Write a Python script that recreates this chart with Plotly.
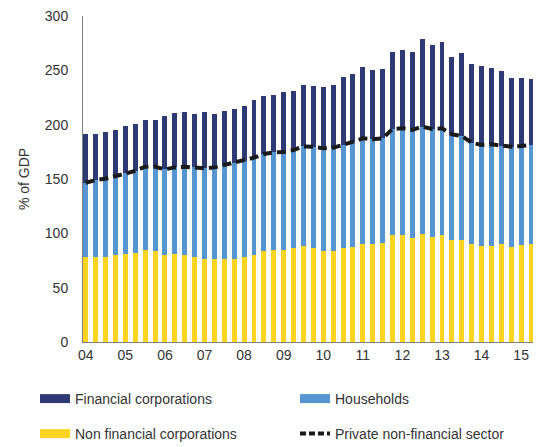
import plotly.graph_objects as go

year_labels = ["04", "05", "06", "07", "08", "09", "10", "11", "12", "13", "14", "15"]
quarters = [f"{2004 + i // 4}Q{i % 4 + 1}" for i in range(46)]

non_financial_corps = [77.9, 78.5, 78.5, 79.8, 80.7, 81.6, 84.7, 83.4, 80.1, 81.0, 79.8, 78.2,
                       76.1, 76.1, 76.7, 76.7, 77.9, 80.1, 83.4, 84.7, 84.7, 86.6, 88.0, 86.5,
                       84.0, 83.7, 86.5, 87.7, 90.5, 89.9, 90.8, 98.5, 98.5, 96.0, 99.4, 96.6,
                       98.5, 93.9, 94.2, 90.2, 88.6, 88.3, 89.9, 87.7, 89.0, 90.2]
households = [68.7, 70.6, 71.8, 73.0, 74.5, 75.8, 76.6, 77.9, 78.8, 79.7, 81.5, 82.5,
              83.7, 84.6, 86.2, 88.3, 88.7, 89.5, 89.6, 89.8, 90.1, 90.1, 92.0, 93.2,
              94.2, 95.1, 94.8, 96.6, 96.9, 96.6, 96.6, 97.5, 98.1, 99.1, 98.8, 99.4,
              98.1, 97.2, 95.4, 93.2, 92.7, 93.6, 90.5, 92.0, 91.4, 91.1]
financial_corps = [44.5, 42.6, 42.9, 42.6, 43.9, 43.5, 43.0, 43.0, 49.4, 50.0, 50.3, 49.1,
                   51.5, 49.1, 50.0, 49.7, 50.9, 53.1, 53.7, 52.8, 55.6, 54.3, 56.5, 55.9,
                   56.1, 57.7, 62.6, 62.0, 65.4, 63.8, 64.1, 70.6, 72.4, 72.1, 80.6, 77.3,
                   79.2, 70.9, 76.0, 72.4, 73.0, 70.6, 69.0, 62.9, 62.9, 60.4]
private_non_financial = [146.6, 149.1, 150.3, 152.8, 155.2, 157.4, 161.3, 161.3, 158.9, 160.7, 161.3, 160.7,
                         159.8, 160.7, 162.9, 165.0, 166.6, 169.6, 173.0, 174.5, 174.8, 176.7, 180.0, 179.7,
                         178.2, 178.8, 181.3, 184.3, 187.4, 186.5, 187.4, 196.0, 196.6, 195.1, 198.2, 196.0,
                         196.6, 191.1, 189.6, 183.4, 181.3, 181.9, 180.4, 179.7, 180.4, 181.3]

NAVY = "#2e3a74"
BLUE = "#5596d2"
YELLOW = "#fdd420"
FONT = "Liberation Sans, Arial, sans-serif"

x = list(range(len(quarters)))

fig = go.Figure()
fig.add_trace(go.Bar(x=x, y=non_financial_corps, marker_color=YELLOW, marker_line_width=0,
                     name="Non financial corporations", showlegend=False, hovertext=quarters))
fig.add_trace(go.Bar(x=x, y=households, marker_color=BLUE, marker_line_width=0,
                     name="Households", showlegend=False, hovertext=quarters))
fig.add_trace(go.Bar(x=x, y=financial_corps, marker_color=NAVY, marker_line_width=0,
                     name="Financial corporations", showlegend=False, hovertext=quarters))
fig.add_trace(go.Scatter(x=x, y=private_non_financial, mode="lines",
                         line=dict(color="#1a1a1a", width=4, dash="9px,5px"),
                         name="Private non-financial sector", showlegend=False, hovertext=quarters))

# legend entries (row 1 -> legend, row 2 -> legend2)
fig.add_trace(go.Scatter(x=[None], y=[None], mode="lines", name="Financial corporations",
                         line=dict(color=NAVY, width=9), legend="legend"))
fig.add_trace(go.Scatter(x=[None], y=[None], mode="lines", name="Households",
                         line=dict(color=BLUE, width=9), legend="legend"))
fig.add_trace(go.Scatter(x=[None], y=[None], mode="lines", name="Non financial corporations",
                         line=dict(color=YELLOW, width=9), legend="legend2"))
fig.add_trace(go.Scatter(x=[None], y=[None], mode="lines", name="Private non-financial sector",
                         line=dict(color="#1a1a1a", width=4, dash="6px,3px"), legend="legend2"))

legend_common = dict(orientation="h", x=-0.1067, xanchor="left", yanchor="middle",
                     entrywidth=215, entrywidthmode="pixels", traceorder="normal",
                     bgcolor="rgba(0,0,0,0)", font=dict(family=FONT, size=14, color="#333333"))

fig.update_layout(
    barmode="stack",
    bargap=0.5,
    width=539, height=439,
    margin=dict(l=75, r=14, t=8, b=105, autoexpand=False),
    paper_bgcolor="white", plot_bgcolor="white",
    font=dict(family=FONT, size=14, color="#333333"),
    legend=dict(y=-0.1748, **legend_common),
    legend2=dict(y=-0.2822, **legend_common),
)
fig.update_xaxes(range=[-0.28, 45.2], tickmode="array",
                 tickvals=[4 * i for i in range(len(year_labels))], ticktext=year_labels,
                 showline=True, linecolor="#7f7f7f", linewidth=1, ticks="", showgrid=False,
                 zeroline=False, fixedrange=True, automargin=False)
fig.update_yaxes(range=[0, 300.01], tickvals=[0, 50, 100, 150, 200, 250, 300],
                 showline=True, linecolor="#7f7f7f", linewidth=1,
                 ticks="", showgrid=False, zeroline=False, automargin=False,
                 ticklabelstandoff=11, ticklabeloverflow="allow",
                 title=dict(text="% of GDP", font=dict(size=14), standoff=11))

fig.write_html("out.html")
